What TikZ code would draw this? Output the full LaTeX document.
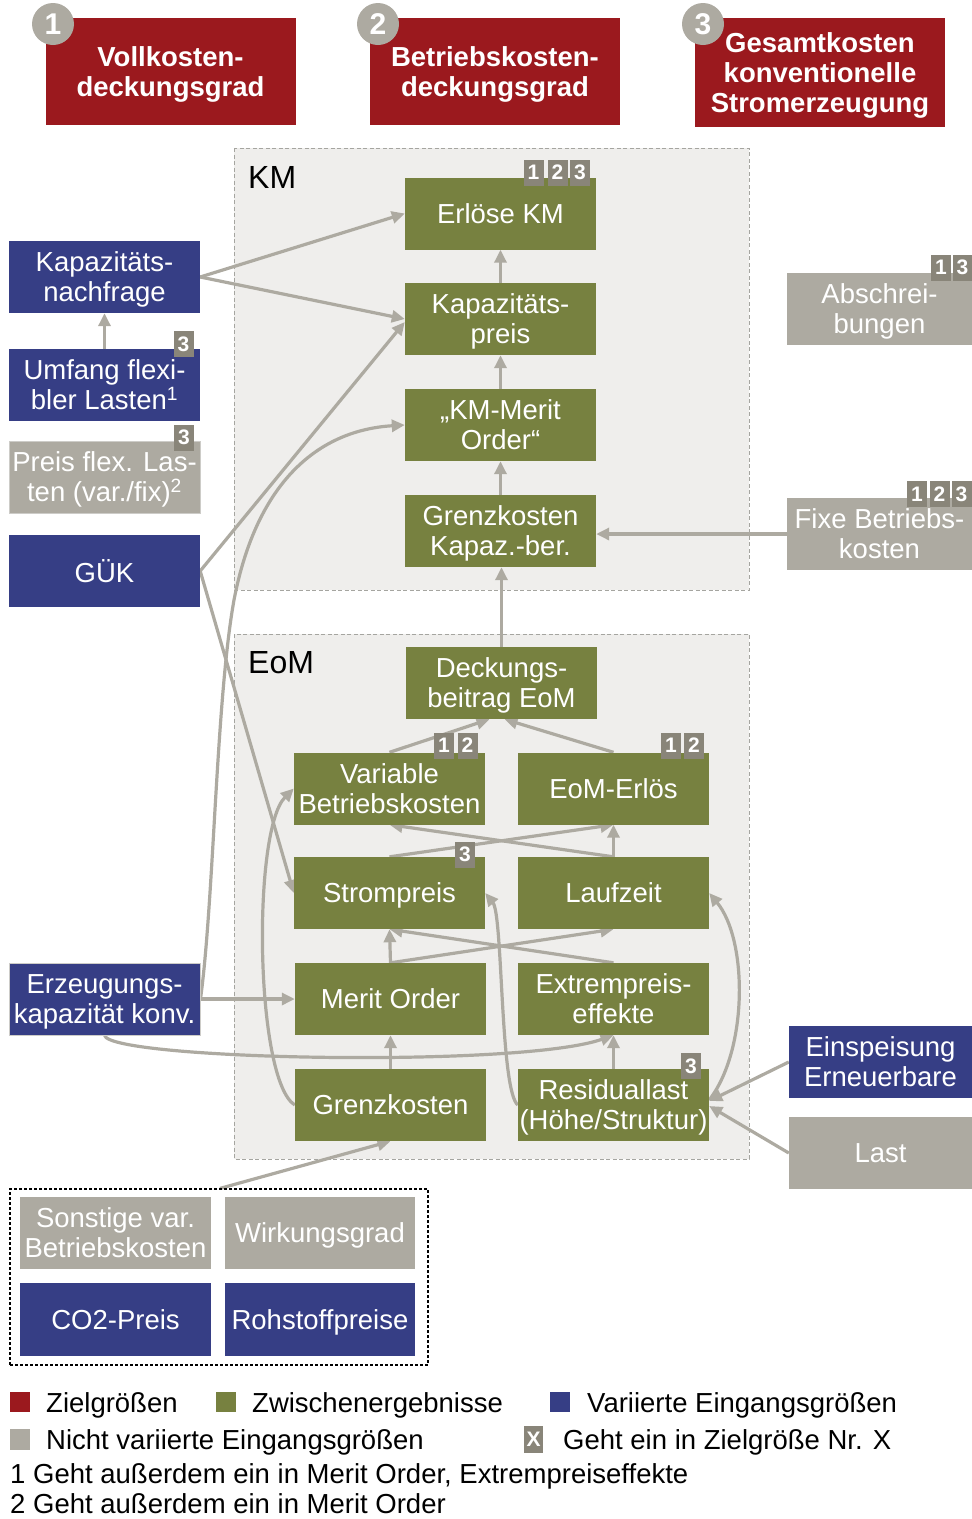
\documentclass[tikz,border=0pt]{standalone}
\usepackage{fontspec}
\setmainfont{Liberation Sans}
\usetikzlibrary{arrows.meta,calc}
\definecolor{cred}{RGB}{155,25,30}
\definecolor{cgreen}{RGB}{119,129,64}
\definecolor{cblue}{RGB}{54,62,133}
\definecolor{cgray}{RGB}{173,170,161}
\definecolor{cbadge}{RGB}{137,133,121}
\definecolor{cregion}{RGB}{239,238,236}
\definecolor{cregline}{RGB}{165,165,160}
\definecolor{carrow}{RGB}{173,170,161}
\definecolor{cedge}{RGB}{205,204,200}
\pgfdeclarelayer{bg}
\pgfdeclarelayer{arr}
\pgfsetlayers{bg,arr,main}
\begin{document}
\begin{tikzpicture}[x=1pt,y=-1pt,
  box/.style={rectangle,inner sep=0pt,minimum width=191pt,minimum height=72pt,text=white,align=center,text depth=0pt,font=\fontsize{27.5}{30}\selectfont},
  gbox/.style={box,fill=cgreen},
  bbox/.style={box,fill=cblue},
  nbox/.style={box,fill=cgray},
  tbox/.style={box,fill=cred,minimum width=250pt,minimum height=107pt,font=\bfseries\fontsize{27.5}{30}\selectfont},
  badge/.style={rectangle,fill=cbadge,text=white,inner sep=0pt,minimum width=20pt,minimum height=26pt,font=\bfseries\fontsize{21}{21}\selectfont},
  circbadge/.style={circle,fill=cgray,minimum size=42pt,inner sep=0pt,text=white,font=\bfseries\fontsize{30}{30}\selectfont},
  con/.style={draw=carrow,line width=3.2pt,-{Triangle[length=13pt,width=12pt]}},
  region/.style={fill=cregion,draw=cregline,line width=1pt,dash pattern=on 4pt off 2.5pt},
  lbl/.style={font=\fontsize{32}{32}\selectfont,anchor=west,inner sep=0pt},
  leg/.style={font=\fontsize{27.5}{30}\selectfont,anchor=base west,inner sep=0pt},
  sq/.style={minimum size=20pt,inner sep=0pt}
]
\useasboundingbox (0,0) rectangle (972,1519);

% regions
\begin{pgfonlayer}{bg}
\draw[region] (234,148) rectangle (749,590);
\draw[region] (234,634) rectangle (749,1159);
\end{pgfonlayer}
\node[lbl] (kmlbl) at (248,177) {KM};
\node[lbl] (eomlbl) at (248,663) {EoM};

% title boxes
\node[tbox] (t1) at (170.5,71.5) {Vollkosten-\\deckungsgrad};
\node[tbox] (t2) at (495,71.5) {Betriebskosten-\\deckungsgrad};
\node[tbox,minimum height=109pt] (t3) at (820,72.5) {Gesamtkosten\\konventionelle\\Stromerzeugung};
\node[circbadge] (c1) at (53,24) {1};
\node[circbadge] (c2) at (378,24) {2};
\node[circbadge] (c3) at (703,24) {3};

% KM
\node[gbox] (erl) at (500.5,213.5) {Erlöse KM};
\node[gbox] (kp) at (500.5,319) {Kapazitäts-\\preis};
\node[gbox] (kmo) at (500.5,425) {„KM-Merit\\Order“};
\node[gbox] (gkk) at (500.5,531) {Grenzkosten\\Kapaz.-ber.};

% left column
\node[bbox] (kn) at (104.5,277) {Kapazitäts-\\nachfrage};
\node[bbox] (ufl) at (104.5,385) {Umfang flexi-\\bler Lasten\textsuperscript{1}};
\node[nbox,draw=cedge,line width=1pt] (pfl) at (104.5,477) {Preis flex. Las-\\ten (var./fix)\textsuperscript{2}};
\node[bbox] (guk) at (104.5,571) {GÜK};
\node[bbox,draw=cedge,line width=1pt] (ezk) at (104.5,999) {Erzeugungs-\\kapazität konv.};

% right column
\node[nbox,minimum width=185pt] (abs) at (879.5,309) {Abschrei-\\bungen};
\node[nbox,minimum width=185pt] (fbk) at (879.5,534) {Fixe Betriebs-\\kosten};
\node[bbox,minimum width=183pt] (esp) at (880.5,1062) {Einspeisung\\Erneuerbare};
\node[nbox,minimum width=183pt] (last) at (880.5,1153) {Last};

% EoM
\node[gbox] (db) at (501.5,683) {Deckungs-\\beitrag EoM};
\node[gbox] (vbk) at (389.5,788.5) {Variable\\Betriebskosten};
\node[gbox] (eoe) at (613.5,788.5) {EoM-Erlös};
\node[gbox] (sp) at (389.5,893) {Strompreis};
\node[gbox] (lz) at (613.5,893) {Laufzeit};
\node[gbox] (mo) at (390.5,999) {Merit Order};
\node[gbox] (ep) at (613.5,999) {Extrempreis-\\effekte};
\node[gbox] (gk) at (390.5,1105) {Grenzkosten};
\node[gbox] (rl) at (613.5,1105) {Residuallast\\(Höhe/Struktur)};

% bottom group
\node[draw=black,line width=1.2pt,dash pattern=on 3pt off 2pt,minimum width=418pt,minimum height=176pt,inner sep=0pt] (grp) at (219,1277) {};
\node[nbox] (son) at (115.5,1233) {Sonstige var.\\Betriebskosten};
\node[nbox,minimum width=190pt] (wg) at (320,1233) {Wirkungsgrad};
\node[bbox,minimum height=73pt] (co2) at (115.5,1319.5) {CO2-Preis};
\node[bbox,minimum width=190pt,minimum height=73pt] (roh) at (320,1319.5) {Rohstoffpreise};

% connectors
\begin{pgfonlayer}{arr}
\draw[con] (kn.east) -- (erl.west);
\draw[con] (kn.east) -- (kp.west);
\draw[con] (ufl.north) -- (kn.south);
\draw[con] (guk.east) -- ([yshift=-3pt]kp.west);
\draw[con] (guk.east) -- (sp.west);
\draw[con] (ezk.east) .. controls (214,900) and (216,700) .. (234,600) .. controls (257,480) and (320,430) .. (kmo.west);
\draw[con] (ezk.east) -- (mo.west);
\draw[con] (ezk.south) .. controls (112,1060) and (520,1068) .. (ep.south);
\draw[con] (db.north) -- (db.north |- gkk.south);
\draw[con] (fbk.west) -- (fbk.west -| gkk.east);
\draw[con] (gkk.north) -- (kmo.south);
\draw[con] (kmo.north) -- (kp.south);
\draw[con] (kp.north) -- (erl.south);
\draw[con] (vbk.north) -- ([xshift=-12pt]db.south);
\draw[con] (eoe.north) -- ([xshift=3pt]db.south);
\draw[con] (sp.north) -- (eoe.south);
\draw[con] (lz.north) -- (vbk.south);
\draw[con] (lz.north) -- (eoe.south);
\draw[con] (mo.north) -- (sp.south);
\draw[con] (mo.north) -- (lz.south);
\draw[con] (ep.north) -- (sp.south);
\draw[con] (gk.west) .. controls (255,1080) and (252,830) .. (vbk.west);
\draw[con] (gk.north) -- (mo.south);
\draw[con] (rl.north) -- (ep.south);
\draw[con] (rl.west) .. controls (500,1090) and (503,915) .. (sp.east);
\draw[con] ([yshift=5pt]rl.east) .. controls (748,1050) and (748,940) .. (lz.east);
\draw[con] (esp.west) -- ([yshift=4pt]rl.east);
\draw[con] (last.west) -- ([yshift=-1pt]rl.east);
\draw[con] ([xshift=1pt]grp.north) -- (gk.south);
\end{pgfonlayer}

% badges
\node[badge] (be1) at (533.5,172.5) {1};
\node[badge] (be2) at (557.5,172.5) {2};
\node[badge] (be3) at (580,172.5) {3};
\node[badge] (bu3) at (183.5,344) {3};
\node[badge] (bp3) at (184,437.5) {3};
\node[badge] (ba1) at (941,267.5) {1};
\node[badge] (ba3) at (962.5,267.5) {3};
\node[badge] (bf1) at (917,494) {1};
\node[badge] (bf2) at (939.5,494) {2};
\node[badge] (bf3) at (961.5,494) {3};
\node[badge] (bv1) at (444,745.5) {1};
\node[badge] (bv2) at (467.5,745.5) {2};
\node[badge] (bo1) at (671,745.5) {1};
\node[badge] (bo2) at (694,745.5) {2};
\node[badge] (bs3) at (465,854.5) {3};
\node[badge] (br3) at (691,1066) {3};

% legend
\node[sq,fill=cred] (lr) at (20,1402) {};
\node[leg] (lrt) at (46,1412) {Zielgrößen};
\node[sq,fill=cgreen] (lg) at (226,1402) {};
\node[leg] (lgt) at (252,1412) {Zwischenergebnisse};
\node[sq,fill=cblue] (lb) at (560,1402) {};
\node[leg] (lbt) at (587,1412) {Variierte Eingangsgrößen};
\node[sq,fill=cgray,minimum height=21pt] (lgr) at (20,1439.5) {};
\node[badge,minimum width=19pt,minimum height=27pt] (lx) at (533.5,1439.5) {X};
\node[leg] (lgrt) at (46,1449) {Nicht variierte Eingangsgrößen};
\node[leg] (lxt) at (563,1449) {Geht ein in Zielgröße Nr. X};
\node[leg] (f1) at (10,1483) {1 Geht außerdem ein in Merit Order, Extrempreiseffekte};
\node[leg] (f2) at (10,1513) {2 Geht außerdem ein in Merit Order};
\end{tikzpicture}
\end{document}
